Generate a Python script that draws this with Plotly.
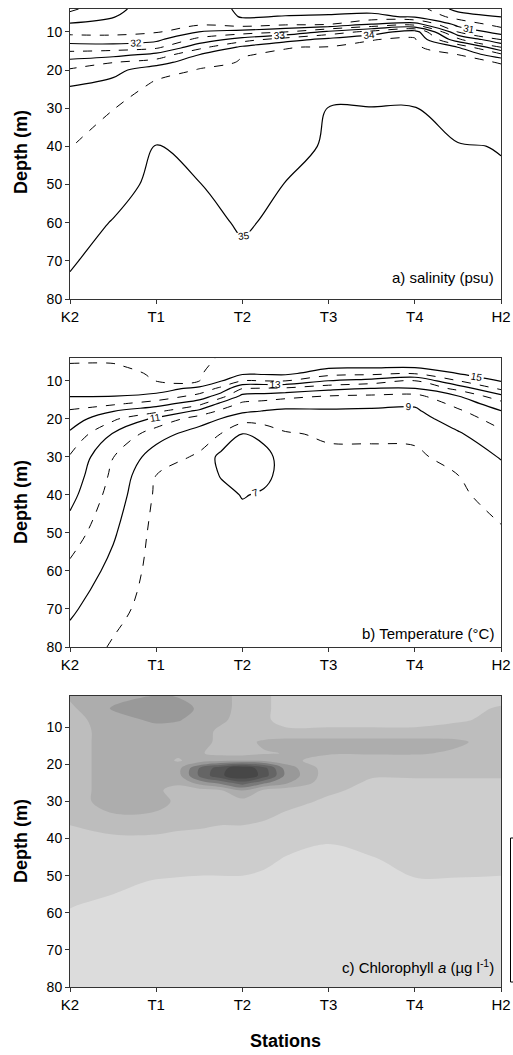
import plotly.graph_objects as go

# ---------------- data ----------------
stations = ["K2", "T1", "T2", "T3", "T4", "H2"]
station_pos = [0, 1, 2, 3, 4, 5]

# a) salinity (psu)
sal_x = [0, 0.5, 1, 1.5, 2, 2.5, 3, 3.5, 4, 4.5, 5]
sal_depth = [4, 6, 8, 10, 12, 14, 16, 18, 20, 24, 30, 40, 50, 60, 70, 80]
sal_z = [
    [30.40, 30.90, 31.20, 31.30, 30.90, 30.85, 30.85, 30.85, 30.80, 29.80, 29.60],
    [30.69, 30.98, 31.25, 31.36, 30.96, 31.02, 31.05, 31.12, 30.92, 30.33, 29.99],
    [31.06, 31.15, 31.35, 31.43, 31.23, 31.41, 31.49, 32.01, 32.25, 30.80, 30.33],
    [31.35, 31.38, 31.45, 32.01, 32.22, 32.49, 33.14, 33.70, 34.31, 31.49, 30.75],
    [31.75, 31.67, 31.87, 32.67, 33.25, 33.78, 34.16, 34.49, 34.55, 32.62, 31.49],
    [32.23, 32.25, 32.37, 33.33, 34.10, 34.49, 34.52, 34.56, 34.60, 33.99, 32.49],
    [32.72, 32.83, 33.17, 34.01, 34.49, 34.53, 34.58, 34.61, 34.65, 34.51, 33.64],
    [33.20, 33.49, 33.75, 34.40, 34.52, 34.56, 34.64, 34.67, 34.70, 34.56, 34.49],
    [33.56, 33.83, 34.33, 34.52, 34.54, 34.58, 34.70, 34.73, 34.76, 34.60, 34.54],
    [33.99, 34.17, 34.59, 34.59, 34.58, 34.64, 34.82, 34.84, 34.87, 34.69, 34.62],
    [34.19, 34.49, 34.74, 34.68, 34.65, 34.72, 35.01, 35.01, 35.01, 34.82, 34.75],
    [34.49, 34.67, 35.01, 34.84, 34.76, 34.86, 35.05, 35.05, 35.04, 35.02, 34.99],
    [34.66, 34.84, 35.10, 35.01, 34.86, 35.01, 35.08, 35.08, 35.06, 35.05, 35.03],
    [34.82, 35.02, 35.15, 35.08, 34.97, 35.06, 35.10, 35.10, 35.08, 35.06, 35.05],
    [34.98, 35.08, 35.18, 35.14, 35.05, 35.10, 35.10, 35.10, 35.08, 35.06, 35.05],
    [35.05, 35.12, 35.20, 35.18, 35.10, 35.12, 35.10, 35.10, 35.08, 35.06, 35.05],
]

# b) temperature (deg C)
tem_x = [0, 0.5, 1, 1.5, 1.75, 2, 2.25, 2.5, 3, 3.5, 4, 4.5, 5]
tem_depth = [4, 6, 8, 10, 12, 14, 16, 18, 20, 24, 30, 35, 40, 50, 60, 70, 80]
tem_z = [
    [16.20, 16.15, 16.40, 16.30, 15.90, 15.60, 15.60, 15.60, 15.50, 15.50, 15.50, 15.50, 15.40],
    [15.92, 15.94, 16.25, 16.20, 15.75, 15.40, 15.40, 15.45, 15.30, 15.30, 15.30, 15.30, 15.30],
    [15.70, 15.71, 16.12, 16.10, 15.55, 15.20, 15.20, 15.25, 14.47, 14.33, 14.15, 15.05, 15.18],
    [15.48, 15.47, 16.02, 16.02, 15.07, 14.02, 14.02, 14.02, 12.98, 12.60, 11.98, 13.98, 15.05],
    [15.26, 15.24, 15.43, 14.75, 13.75, 12.02, 11.92, 11.83, 11.29, 10.98, 10.98, 12.33, 14.25],
    [15.04, 15.02, 14.75, 13.67, 12.50, 10.71, 10.56, 10.33, 9.98, 9.85, 9.71, 10.98, 12.71],
    [14.45, 14.20, 13.50, 12.33, 10.75, 9.83, 9.64, 9.40, 9.33, 9.24, 9.14, 10.33, 11.64],
    [13.88, 13.02, 12.25, 10.67, 9.80, 9.17, 8.95, 8.83, 8.88, 8.86, 8.84, 9.82, 10.95],
    [13.53, 12.20, 10.75, 9.50, 8.98, 8.40, 8.48, 8.50, 8.63, 8.62, 8.63, 9.45, 10.48],
    [12.82, 10.92, 9.43, 8.50, 7.98, 6.98, 7.25, 7.90, 8.13, 8.15, 8.21, 8.88, 9.76],
    [11.91, 10.02, 8.50, 7.85, 6.70, 6.50, 6.70, 7.40, 7.80, 7.80, 7.80, 8.40, 9.06],
    [11.62, 9.78, 7.98, 7.60, 6.95, 6.60, 6.80, 7.30, 7.70, 7.70, 7.70, 7.98, 8.69],
    [11.32, 9.57, 7.85, 7.55, 7.30, 6.95, 7.10, 7.35, 7.65, 7.65, 7.65, 7.85, 8.34],
    [10.55, 9.13, 7.70, 7.50, 7.50, 7.40, 7.45, 7.50, 7.60, 7.60, 7.60, 7.75, 7.90],
    [9.74, 8.71, 7.65, 7.50, 7.50, 7.50, 7.50, 7.50, 7.60, 7.60, 7.60, 7.70, 7.85],
    [9.17, 8.29, 7.60, 7.50, 7.50, 7.50, 7.50, 7.50, 7.60, 7.60, 7.60, 7.70, 7.80],
    [8.60, 7.90, 7.60, 7.50, 7.50, 7.50, 7.50, 7.50, 7.60, 7.60, 7.60, 7.70, 7.80],
]

# c) chlorophyll a (ug/l)
chl_x = [0, 0.5, 1, 1.25, 1.5, 1.75, 2, 2.25, 2.5, 3, 3.5, 4, 4.5, 5]
chl_depth = [1, 5, 8, 11, 14, 17, 19, 21, 23, 25, 27, 30, 34, 40, 46, 52, 58, 65, 80]
chl_z = [
    [1.60, 1.80, 1.95, 1.90, 1.80, 1.70, 1.30, 1.10, 0.80, 0.75, 0.75, 0.75, 0.80, 0.80],
    [1.40, 2.05, 2.40, 2.30, 1.90, 1.70, 1.30, 1.10, 0.80, 0.75, 0.75, 0.75, 0.85, 1.05],
    [1.30, 1.80, 2.10, 2.05, 1.80, 1.60, 1.30, 1.10, 0.80, 0.80, 0.80, 0.80, 0.95, 1.10],
    [1.30, 1.70, 1.80, 1.75, 1.70, 1.40, 1.20, 1.05, 1.10, 1.10, 1.10, 1.10, 1.15, 1.20],
    [1.30, 1.70, 1.80, 1.70, 1.65, 1.40, 1.30, 1.60, 1.68, 1.68, 1.68, 1.68, 1.60, 1.20],
    [1.30, 1.70, 1.80, 1.60, 1.55, 1.35, 1.30, 1.45, 1.52, 1.58, 1.58, 1.58, 1.40, 1.15],
    [1.30, 1.70, 1.75, 1.45, 1.70, 1.90, 1.95, 1.90, 1.70, 1.20, 1.15, 1.15, 1.15, 1.10],
    [1.30, 1.70, 1.60, 1.80, 3.00, 3.80, 4.40, 3.70, 2.30, 1.20, 1.10, 1.10, 1.10, 1.10],
    [1.30, 1.70, 1.60, 1.80, 3.10, 3.90, 4.50, 3.80, 2.40, 1.20, 1.03, 1.03, 1.03, 1.03],
    [1.30, 1.70, 1.60, 1.55, 2.20, 2.70, 3.30, 2.60, 2.10, 1.15, 0.95, 0.95, 0.95, 0.95],
    [1.30, 1.70, 1.55, 1.40, 1.30, 1.45, 2.05, 1.40, 1.25, 1.05, 0.92, 0.92, 0.92, 0.92],
    [1.30, 1.70, 1.60, 1.45, 1.30, 1.30, 1.30, 1.20, 1.10, 0.95, 0.88, 0.88, 0.88, 0.88],
    [1.10, 1.45, 1.45, 1.30, 1.20, 1.10, 1.10, 1.05, 0.95, 0.85, 0.80, 0.80, 0.80, 0.80],
    [0.85, 0.90, 0.90, 0.85, 0.85, 0.85, 0.85, 0.80, 0.70, 0.55, 0.70, 0.75, 0.75, 0.75],
    [0.75, 0.80, 0.75, 0.72, 0.70, 0.70, 0.70, 0.60, 0.45, 0.35, 0.45, 0.65, 0.65, 0.60],
    [0.65, 0.60, 0.45, 0.42, 0.40, 0.40, 0.40, 0.35, 0.30, 0.30, 0.35, 0.45, 0.45, 0.45],
    [0.52, 0.40, 0.30, 0.30, 0.30, 0.30, 0.30, 0.30, 0.30, 0.30, 0.30, 0.30, 0.30, 0.30],
    [0.35, 0.30, 0.30, 0.30, 0.30, 0.30, 0.30, 0.30, 0.30, 0.30, 0.30, 0.30, 0.30, 0.30],
    [0.30, 0.30, 0.30, 0.30, 0.30, 0.30, 0.30, 0.30, 0.30, 0.30, 0.30, 0.30, 0.30, 0.30],
]
chl_greys = ["#dcdcdc", "#cdcdcd", "#bdbdbd", "#adadad", "#999999",
             "#7a7a7a", "#656565", "#555555", "#474747"]

depth_ticks = [10, 20, 30, 40, 50, 60, 70, 80]

FONT = "Arial, Liberation Sans, sans-serif"

# ---------------- figure ----------------
fig = go.Figure()

lab = dict(size=10, color="black", family=FONT)


def line_pair(x, y, z, solid, dashed, xa, ya):
    fig.add_trace(go.Contour(
        x=x, y=y, z=z, xaxis=xa, yaxis=ya, showscale=False, hoverinfo="skip",
        contours=dict(start=dashed[0], end=dashed[1], size=dashed[2],
                      coloring="none", showlabels=False),
        line=dict(color="black", width=1, dash="dash", smoothing=1)))
    fig.add_trace(go.Contour(
        x=x, y=y, z=z, xaxis=xa, yaxis=ya, showscale=False, hoverinfo="skip",
        contours=dict(start=solid[0], end=solid[1], size=solid[2],
                      coloring="none", showlabels=True, labelfont=lab),
        line=dict(color="black", width=1.2, smoothing=1)))


line_pair(sal_x, sal_depth, sal_z, (30, 35, 1), (30.5, 34.5, 1), "x", "y")
line_pair(tem_x, tem_depth, tem_z, (7, 15, 2), (8, 16, 2), "x2", "y2")

n = len(chl_greys)
cs = []
for i, c in enumerate(chl_greys):
    cs.append([i / n, c])
    cs.append([(i + 1) / n, c])
fig.add_trace(go.Contour(
    x=chl_x, y=chl_depth, z=chl_z, xaxis="x3", yaxis="y3", showscale=False,
    hoverinfo="skip", colorscale=cs, zmin=0, zmax=4.5, zauto=False,
    contours=dict(start=0.5, end=4.0, size=0.5, coloring="fill", showlines=False),
    line=dict(width=0, smoothing=1)))

# plot areas in page pixels (page body margin removed by the post script)
H_BOT, PH = 987, 979.0


def dom(top_px, bot_px):
    return [(H_BOT - bot_px) / PH, (H_BOT - top_px) / PH]


common_x = dict(range=[0, 5], tickvals=station_pos, ticktext=stations,
                showgrid=False, zeroline=False, showline=True, mirror=True,
                linecolor="#333333", linewidth=1, ticks="outside", ticklen=4,
                tickcolor="#333333", tickfont=dict(size=15, family=FONT, color="black"))
common_y = dict(tickvals=depth_ticks, showgrid=False, zeroline=False,
                showline=True, mirror=True, linecolor="#333333", linewidth=1,
                ticks="outside", ticklen=4, tickcolor="#333333",
                tickfont=dict(size=14, family=FONT, color="black"))

fig.update_layout(
    width=513, height=1055,
    margin=dict(l=70, r=12, t=8, b=68, autoexpand=False),
    paper_bgcolor="white", plot_bgcolor="white", showlegend=False,
    font=dict(family=FONT, color="black"),
    xaxis=dict(common_x, anchor="y", domain=[0, 1]),
    yaxis=dict(common_y, anchor="x", domain=dom(9, 299), range=[80, 4]),
    xaxis2=dict(common_x, anchor="y2", domain=[0, 1]),
    yaxis2=dict(common_y, anchor="x2", domain=dom(358, 647), range=[80, 4]),
    xaxis3=dict(common_x, anchor="y3", domain=[0, 1]),
    yaxis3=dict(common_y, anchor="x3", domain=dom(696, 987), range=[80, 1.6]),
)


def px_x(p):
    return (p - 70) / 431.0


def px_y(p):
    return (H_BOT - p) / PH


ann = []
for yc in (152, 502, 841):
    ann.append(dict(text="<b>Depth (m)</b>", textangle=-90, x=px_x(21), y=px_y(yc),
                    xref="paper", yref="paper", showarrow=False,
                    xanchor="center", yanchor="middle", font=dict(size=18, family=FONT)))
ann.append(dict(text="<b>Stations</b>", x=px_x(285), y=px_y(1041), xref="paper",
                yref="paper", showarrow=False, xanchor="center", yanchor="middle",
                font=dict(size=18, family=FONT)))
panel_labels = [("a) salinity (psu)", 278), ("b) Temperature (°C)", 633),
                ("c) Chlorophyll <i>a</i> (µg l<sup>-1</sup>)", 966)]
for t, yc in panel_labels:
    ann.append(dict(text=t, x=px_x(496), y=px_y(yc), xref="paper", yref="paper",
                    showarrow=False, xanchor="right", yanchor="middle",
                    font=dict(size=15, family=FONT)))
fig.update_layout(annotations=ann)

# partial colour-bar frame at the right edge of panel c
fig.add_shape(type="rect", xref="paper", yref="paper",
              x0=px_x(510.5), x1=px_x(530), y0=px_y(982), y1=px_y(838),
              line=dict(color="black", width=1), fillcolor="rgba(0,0,0,0)")

fig.write_html(
    "out.html",
    config={"displayModeBar": False, "staticPlot": True},
    post_script=("document.body.style.margin='0';"
                 "document.body.style.overflow='hidden';"
                 "document.documentElement.style.overflow='hidden';"),
)
